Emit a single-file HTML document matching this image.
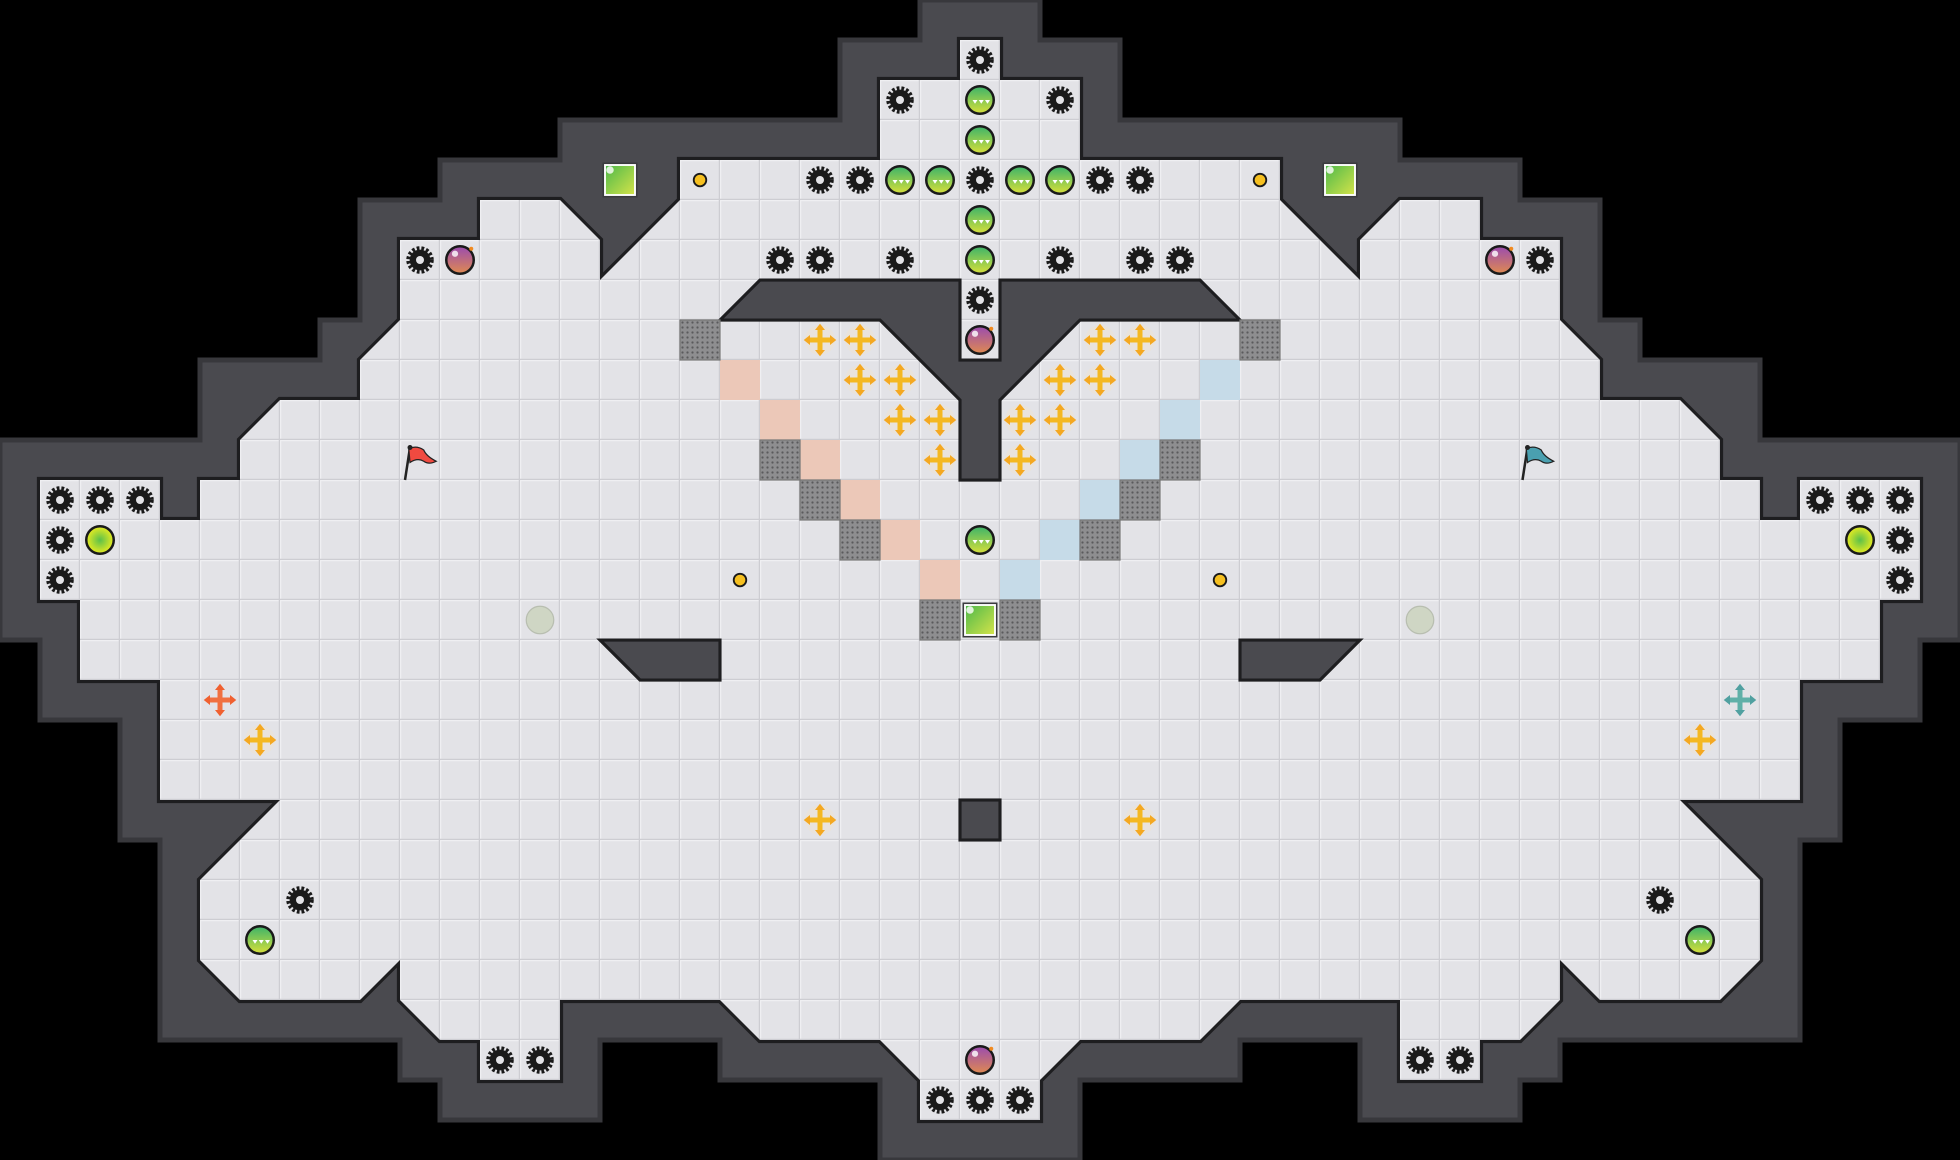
<!DOCTYPE html>
<html><head><meta charset="utf-8"><style>html,body{margin:0;padding:0;background:#000;}svg{display:block}</style></head>
<body>
<svg width="1960" height="1160" viewBox="0 0 1568 928" xmlns="http://www.w3.org/2000/svg">
<defs>
<pattern id="grid" width="32" height="32" patternUnits="userSpaceOnUse">
<rect width="32" height="32" fill="#e3e3e7"/>
<path d="M0 0.5H32M0.5 0V32" stroke="#efeff2" stroke-width="1"/>
<path d="M0 31.5H32M31.5 0V32" stroke="#cdcdd2" stroke-width="1"/>
</pattern>
<pattern id="dots" width="4" height="4" patternUnits="userSpaceOnUse">
<rect width="4" height="4" fill="#8e8e90"/><circle cx="2" cy="2" r="0.9" fill="#5a5a5c"/>
</pattern>
<linearGradient id="gball" x1="0" y1="0" x2="0" y2="1"><stop offset="0" stop-color="#3bb36a"/><stop offset="1" stop-color="#d8e03a"/></linearGradient>
<linearGradient id="bomb" x1="0" y1="0" x2="0" y2="1"><stop offset="0" stop-color="#9a4bb0"/><stop offset="1" stop-color="#e08a50"/></linearGradient>
<linearGradient id="gsq" x1="0" y1="0" x2="1" y2="1"><stop offset="0" stop-color="#4cb84a"/><stop offset="1" stop-color="#d6e44a"/></linearGradient>
<radialGradient id="ybig"><stop offset="0" stop-color="#5cc04a"/><stop offset="1" stop-color="#e8ec20"/></radialGradient>
<path id="floor" d="M768,32 L768,64 704,64 704,128 544,128 544,160 480,224 480,192 448,160 384,160 384,192 320,192 320,256 288,288 288,320 224,320 192,352 192,384 160,384 160,416 128,416 128,384 32,384 32,480 64,480 64,544 128,544 128,640 224,640 160,704 160,768 192,800 288,800 320,768 320,800 352,832 384,832 384,864 448,864 448,800 576,800 608,832 704,832 736,864 736,896 832,896 832,864 864,832 960,832 992,800 1120,800 1120,864 1184,864 1184,832 1216,832 1248,800 1248,768 1280,800 1376,800 1408,768 1408,704 1344,640 1440,640 1440,544 1504,544 1504,480 1536,480 1536,384 1440,384 1440,416 1408,416 1408,384 1376,384 1376,352 1344,320 1280,320 1280,288 1248,256 1248,192 1184,192 1184,160 1120,160 1088,192 1088,224 1024,160 1024,128 864,128 864,64 800,64 800,32 Z"/>
<g id="gear"><circle r="9.5" fill="none" stroke="#1a1a1a" stroke-width="3" stroke-dasharray="2.2 1.6"/><circle r="8.3" fill="#1a1a1a"/><circle r="3.2" fill="#e3e3e7"/></g>
<g id="ball"><circle r="11" fill="url(#gball)" stroke="#1a1a1a" stroke-width="2"/><path d="M-6 0l2 3 2-3zM-1 0l2 3 2-3zM4 0l2 3 2-3z" fill="#fff"/></g>
<g id="bomb1"><circle r="11" fill="url(#bomb)" stroke="#1a1a1a" stroke-width="2"/><circle cx="-4" cy="-5" r="2.5" fill="#fff" opacity=".8"/><circle cx="9" cy="-9" r="1.6" fill="#f08a20"/></g>
<g id="cross"><circle r="12" fill="#ebe3d6" opacity=".7"/><path d="M-10 0H10M0 -10V10" stroke="#f4b820" stroke-width="4"/><path d="M0 -13l-4 5h8zM0 13l-4 -5h8zM-13 0l5 -4v8zM13 0l-5 -4v8z" fill="#f4a820"/></g>
<g id="gsquare"><rect x="-14" y="-14" width="28" height="28" fill="#3a3a3e"/><rect x="-12" y="-12" width="24" height="24" fill="url(#gsq)" stroke="#fff" stroke-width="1.5"/><circle cx="-8" cy="-8" r="3" fill="#fff" opacity=".8"/></g>
</defs>
<rect width="1568" height="928" fill="#000"/>
<path d="M736,0 L736,32 672,32 672,96 448,96 448,128 352,128 352,160 288,160 288,256 256,256 256,288 160,288 160,352 0,352 0,512 32,512 32,576 96,576 96,672 128,672 128,832 320,832 320,864 352,864 352,896 480,896 480,832 576,832 576,864 704,864 704,928 864,928 864,864 992,864 992,832 1088,832 1088,896 1216,896 1216,864 1248,864 1248,832 1440,832 1440,672 1472,672 1472,576 1536,576 1536,512 1568,512 1568,352 1408,352 1408,288 1312,288 1312,256 1280,256 1280,160 1216,160 1216,128 1120,128 1120,96 896,96 896,32 832,32 832,0 Z" fill="#4a4a4f" stroke="#38383c" stroke-width="4"/>
<use href="#floor" fill="none" stroke="#1e1e20" stroke-width="5" stroke-linejoin="miter"/>
<use href="#floor" fill="url(#grid)" stroke="none"/>
<g fill="#4a4a4f" stroke="#1e1e20" stroke-width="2.5" stroke-linejoin="miter">
<path d="M608,224 L768,224 768,288 800,288 800,224 960,224 992,256 864,256 800,320 800,384 768,384 768,320 704,256 576,256 Z"/>
<path d="M480,512 L576,512 576,544 512,544 Z"/>
<path d="M1088,512 L992,512 992,544 1056,544 Z"/>
<rect x="768" y="640" width="32" height="32"/>
</g>
<g fill="#ecc8b8"><rect x="576" y="288" width="32" height="32"/><rect x="608" y="320" width="32" height="32"/><rect x="640" y="352" width="32" height="32"/><rect x="672" y="384" width="32" height="32"/><rect x="704" y="416" width="32" height="32"/><rect x="736" y="448" width="32" height="32"/></g>
<g fill="#c6dbe8"><rect x="960" y="288" width="32" height="32"/><rect x="928" y="320" width="32" height="32"/><rect x="896" y="352" width="32" height="32"/><rect x="864" y="384" width="32" height="32"/><rect x="832" y="416" width="32" height="32"/><rect x="800" y="448" width="32" height="32"/></g>
<g fill="url(#dots)" stroke="#777" stroke-width="1"><rect x="544" y="256" width="32" height="32"/><rect x="608" y="352" width="32" height="32"/><rect x="640" y="384" width="32" height="32"/><rect x="672" y="416" width="32" height="32"/><rect x="736" y="480" width="32" height="32"/><rect x="992" y="256" width="32" height="32"/><rect x="928" y="352" width="32" height="32"/><rect x="896" y="384" width="32" height="32"/><rect x="864" y="416" width="32" height="32"/><rect x="800" y="480" width="32" height="32"/></g>
<use href="#gsquare" x="496" y="144"/><use href="#gsquare" x="1072" y="144"/><use href="#gsquare" x="784" y="496"/>
<g>
<use href="#gear" x="784" y="48"/><use href="#gear" x="720" y="80"/><use href="#gear" x="848" y="80"/>
<use href="#gear" x="656" y="144"/><use href="#gear" x="688" y="144"/><use href="#gear" x="784" y="144"/><use href="#gear" x="880" y="144"/><use href="#gear" x="912" y="144"/>
<use href="#gear" x="624" y="208"/><use href="#gear" x="656" y="208"/><use href="#gear" x="720" y="208"/><use href="#gear" x="848" y="208"/><use href="#gear" x="912" y="208"/><use href="#gear" x="944" y="208"/>
<use href="#gear" x="784" y="240"/><use href="#gear" x="336" y="208"/><use href="#gear" x="1232" y="208"/>
<use href="#gear" x="48" y="400"/><use href="#gear" x="80" y="400"/><use href="#gear" x="112" y="400"/><use href="#gear" x="48" y="432"/><use href="#gear" x="48" y="464"/>
<use href="#gear" x="1456" y="400"/><use href="#gear" x="1488" y="400"/><use href="#gear" x="1520" y="400"/><use href="#gear" x="1520" y="432"/><use href="#gear" x="1520" y="464"/>
<use href="#gear" x="240" y="720"/><use href="#gear" x="1328" y="720"/>
<use href="#gear" x="400" y="848"/><use href="#gear" x="432" y="848"/><use href="#gear" x="1136" y="848"/><use href="#gear" x="1168" y="848"/>
<use href="#gear" x="752" y="880"/><use href="#gear" x="784" y="880"/><use href="#gear" x="816" y="880"/>
</g>
<use href="#ball" x="784" y="80"/><use href="#ball" x="784" y="112"/><use href="#ball" x="720" y="144"/><use href="#ball" x="752" y="144"/><use href="#ball" x="816" y="144"/><use href="#ball" x="848" y="144"/><use href="#ball" x="784" y="176"/><use href="#ball" x="784" y="208"/><use href="#ball" x="784" y="432"/><use href="#ball" x="208" y="752"/><use href="#ball" x="1360" y="752"/>
<use href="#bomb1" x="368" y="208"/><use href="#bomb1" x="1200" y="208"/><use href="#bomb1" x="784" y="272"/><use href="#bomb1" x="784" y="848"/>
<use href="#cross" x="656" y="272"/><use href="#cross" x="688" y="272"/><use href="#cross" x="688" y="304"/><use href="#cross" x="720" y="304"/><use href="#cross" x="720" y="336"/><use href="#cross" x="752" y="336"/><use href="#cross" x="752" y="368"/>
<use href="#cross" x="880" y="272"/><use href="#cross" x="912" y="272"/><use href="#cross" x="848" y="304"/><use href="#cross" x="880" y="304"/><use href="#cross" x="816" y="336"/><use href="#cross" x="848" y="336"/><use href="#cross" x="816" y="368"/>
<use href="#cross" x="208" y="592"/><use href="#cross" x="656" y="656"/><use href="#cross" x="1360" y="592"/><use href="#cross" x="912" y="656"/>
<g transform="translate(176,560)"><path d="M-10 0H10M0 -10V10" stroke="#f07040" stroke-width="4"/><path d="M0 -13l-4 5h8zM0 13l-4 -5h8zM-13 0l5 -4v8zM13 0l-5 -4v8z" fill="#f06030"/></g>
<g transform="translate(1392,560)"><path d="M-10 0H10M0 -10V10" stroke="#60b0a8" stroke-width="4"/><path d="M0 -13l-4 5h8zM0 13l-4 -5h8zM-13 0l5 -4v8zM13 0l-5 -4v8z" fill="#50a0a0"/></g>
<circle cx="80" cy="432" r="11" fill="url(#ybig)" stroke="#1a1a1a" stroke-width="2"/>
<circle cx="1488" cy="432" r="11" fill="url(#ybig)" stroke="#1a1a1a" stroke-width="2"/>
<g fill="#f6c020" stroke="#1a1a1a" stroke-width="1.5"><circle cx="560" cy="144" r="5"/><circle cx="1008" cy="144" r="5"/><circle cx="592" cy="464" r="5"/><circle cx="976" cy="464" r="5"/></g>
<g fill="#cfd6c4" stroke="#b8beb0" stroke-width="1"><circle cx="432" cy="496" r="11"/><circle cx="1136" cy="496" r="11"/></g>
<g><path d="M324 384L328 358" stroke="#222" stroke-width="2"/><path d="M327 359q6-3 12 1q2 5 10 9q-6 3-10 0q-5-3-11 1z" fill="#f04a40" stroke="#222" stroke-width="1"/><circle cx="328" cy="358" r="2" fill="#222"/></g>
<g><path d="M1218 384L1222 358" stroke="#222" stroke-width="2"/><path d="M1221 359q6-3 12 1q2 5 10 9q-6 3-10 0q-5-3-11 1z" fill="#4aa0b0" stroke="#222" stroke-width="1"/><circle cx="1222" cy="358" r="2" fill="#222"/></g>
</svg>
</body></html>
